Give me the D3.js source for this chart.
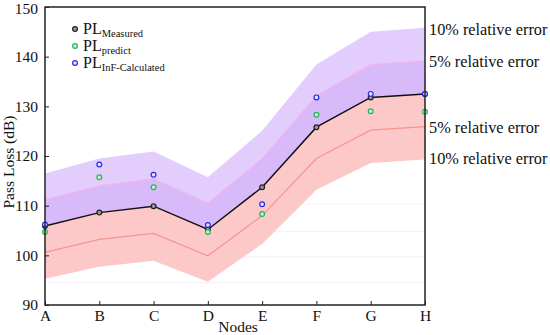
<html lang='eng'>
    <head>
        <title>Pass loss by node</title>
        <script src="https://d3js.org/d3.v7.min.js" charset="utf-8"></script>
        <style>
          body {
            margin: 0;
            background: #fff;
          }
          text {
            font-family: "Liberation Serif", "Times New Roman", serif;
            fill: #111;
          }
        </style>
    </head>
    <body>
        <script>
            // values
            var nodes = ["A", "B", "C", "D", "E", "F", "G", "H"]
            var measured = [105.9, 108.6, 109.9, 105.2, 113.7, 125.8, 131.8, 132.5]
            var predict = [104.7, 115.7, 113.7, 104.7, 108.3, 128.3, 129.0, 128.9]
            var infCalc = [106.2, 118.3, 116.2, 106.1, 110.3, 131.8, 132.5, 132.5]
            // error band edges
            var upper10 = [116.5, 119.5, 120.9, 115.7, 125.1, 138.4, 145.0, 145.8]
            var upper5 = [111.2, 114.0, 115.4, 110.5, 119.4, 132.1, 138.4, 139.1]
            var lower5 = [100.6, 103.2, 104.4, 99.9, 108.0, 119.5, 125.2, 125.9]
            var lower10 = [95.3, 97.7, 98.9, 94.7, 102.3, 113.2, 118.6, 119.3]
            var yTicks = [90, 100, 110, 120, 130, 140, 150]
            var faintLines = [110.3, 104.8, 99.7, 94.5]

            var width = 550
            var height = 335

            var svg = d3.select("body")
                        .append("svg")
                        .attr("width", width)
                        .attr("height", height)

            var x = d3.scalePoint().domain(nodes).range([45, 425])
            var y = d3.scaleLinear().domain([90, 150]).range([305, 7])

            var idx = d3.range(nodes.length)

            function band(lo, hi) {
              return d3.area()
                .x(function(i) { return x(nodes[i]) })
                .y0(function(i) { return y(lo[i]) })
                .y1(function(i) { return y(hi[i]) })(idx)
            }
            function line(vals) {
              return d3.line()
                .x(function(i) { return x(nodes[i]) })
                .y(function(i) { return y(vals[i]) })(idx)
            }

            // faint horizontal lines
            svg.append("g").selectAll("line")
              .data(faintLines)
              .enter()
              .append("line")
              .attr("x1", x("A")).attr("x2", x("H"))
              .attr("y1", function(d) { return y(d) })
              .attr("y2", function(d) { return y(d) })
              .attr("stroke", "#fbeef4")
              .attr("stroke-width", 1)

            // bands
            svg.append("path").attr("d", band(upper5, upper10)).attr("fill", "#e3cdfd")
            svg.append("path").attr("d", band(measured, upper5)).attr("fill", "#d8b9fa")
            svg.append("path").attr("d", band(lower10, measured)).attr("fill", "#fcc9c8")

            svg.append("path").attr("d", line(upper5))
              .attr("fill", "none").attr("stroke", "#f2b2ee").attr("stroke-width", 1.2)
            svg.append("path").attr("d", line(lower5))
              .attr("fill", "none").attr("stroke", "#f6948f").attr("stroke-width", 1.2)
            svg.append("path").attr("d", line(measured))
              .attr("fill", "none").attr("stroke", "#111").attr("stroke-width", 1.5)

            // points
            function dots(vals, stroke, fill) {
              svg.append("g").selectAll("circle")
                .data(vals)
                .enter()
                .append("circle")
                .attr("cx", function(d, i) { return x(nodes[i]) })
                .attr("cy", function(d) { return y(d) })
                .attr("r", 2.4)
                .attr("fill", fill)
                .attr("stroke", stroke)
                .attr("stroke-width", 1.2)
            }
            dots(measured, "#222", "#999")
            dots(predict, "#22b75a", "#c9f0d6")
            dots(infCalc, "#2a2ae8", "#e4e4ff")

            // axes
            var xAxis = d3.axisBottom(x).tickSize(-4).tickPadding(5)
            var yAxis = d3.axisLeft(y).tickValues(yTicks).tickSize(-4).tickPadding(7)

            var gx = svg.append("g").attr("transform", "translate(0,305)").call(xAxis)
            var gy = svg.append("g").attr("transform", "translate(45,0)").call(yAxis)
            ;[gx, gy].forEach(function(g) {
              g.select(".domain").remove()
              g.selectAll(".tick line").attr("stroke", "#222").attr("stroke-width", 1)
              g.selectAll(".tick text").attr("font-size", 15.5).attr("fill", "#111")
                .style("font-family", "'Liberation Serif', serif")
            })
            gx.selectAll(".tick text").attr("dy", "0.72em")
            // keep the top label inside the window
            gy.selectAll(".tick text").filter(function(d) { return d === 150 }).attr("dy", "0.45em")

            // frame
            svg.append("rect")
              .attr("x", 45).attr("y", 7)
              .attr("width", 380).attr("height", 298)
              .attr("fill", "none")
              .attr("stroke", "#222")
              .attr("stroke-width", 1.5)

            svg.append("text")
              .attr("x", 238).attr("y", 332)
              .attr("text-anchor", "middle")
              .attr("font-size", 15.5)
              .text("Nodes")

            svg.append("text")
              .attr("transform", "translate(14,162) rotate(-90)")
              .attr("text-anchor", "middle")
              .attr("font-size", 15.5)
              .text("Pass Loss (dB)")

            // legend
            var legend = [
              {sub: "Measured", stroke: "#222", fill: "#999"},
              {sub: "predict", stroke: "#22b75a", fill: "#c9f0d6"},
              {sub: "InF-Calculated", stroke: "#2a2ae8", fill: "#e4e4ff"}
            ]
            var lg = svg.append("g").selectAll("g")
              .data(legend)
              .enter()
              .append("g")
              .attr("transform", function(d, i) { return "translate(75," + (29 + i * 17) + ")" })
            lg.append("circle")
              .attr("r", 2.4)
              .attr("fill", function(d) { return d.fill })
              .attr("stroke", function(d) { return d.stroke })
              .attr("stroke-width", 1.2)
            var lt = lg.append("text")
              .attr("x", 8).attr("y", 5)
              .attr("font-size", 16)
            lt.append("tspan").text("PL")
            lt.append("tspan")
              .attr("dy", 3)
              .attr("font-size", 10.5)
              .text(function(d) { return d.sub })

            // band labels on the right
            var rightLabels = [
              {t: "10% relative error", y: 35},
              {t: "5% relative error", y: 67},
              {t: "5% relative error", y: 133},
              {t: "10% relative error", y: 164}
            ]
            svg.append("g").selectAll("text")
              .data(rightLabels)
              .enter()
              .append("text")
              .attr("x", 429)
              .attr("y", function(d) { return d.y })
              .attr("font-size", 16.3)
              .text(function(d) { return d.t })
        </script>
    </body>
</html>
